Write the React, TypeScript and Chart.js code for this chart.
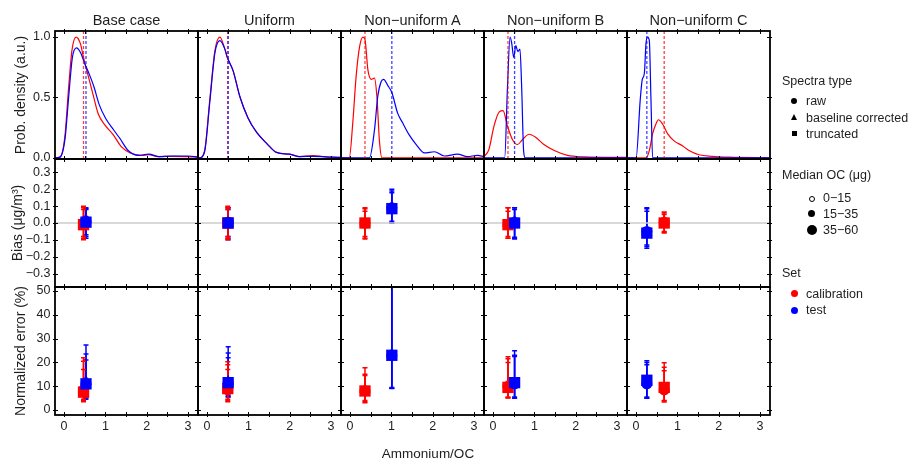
import React, { useEffect, useRef } from 'react';
import { Chart, registerables } from 'chart.js';
Chart.register(...registerables);

// ---------- labels & ticks ----------
const PANEL_TITLES = ['Base case', 'Uniform', 'Non\u2212uniform A', 'Non\u2212uniform B', 'Non\u2212uniform C'];
const ROW_TITLES = ['Prob. density (a.u.)', 'Bias (\u03bcg/m\u00b3)', 'Normalized error (%)'];
const X_TITLE = 'Ammonium/OC';
const X_TICKS = [0, 0.5, 1, 1.5, 2, 2.5, 3];
const DENS_TICKS = [0, 0.5, 1];
const BIAS_TICKS = [-0.3, -0.2, -0.1, 0, 0.1, 0.2, 0.3];
const ERR_TICKS = [0, 10, 20, 30, 40, 50];
const X_RANGE = [-0.22, 3.24];
const DENS_RANGE = [-0.01, 1.05];
const BIAS_RANGE = [-0.38, 0.38];
const ERR_RANGE = [-2.1, 51.7];
const SPECTRA = ['raw', 'baseline corrected', 'truncated'];
const OC_GROUPS = ['0\u221215', '15\u221235', '35\u221260'];
const SETS = ['calibration', 'test'];

// ---------- density curves [x, y] ----------
const DENS_BASE_CAL = [[-0.22, 0], [-0.1, 0.005], [0.02, 0.18], [0.105, 0.56], [0.19, 0.89], [0.29, 1.0], [0.39, 0.95], [0.49, 0.8], [0.59, 0.67], [0.71, 0.51], [0.83, 0.36], [0.99, 0.27], [1.19, 0.19], [1.39, 0.09], [1.6, 0.04], [1.88, 0.02], [2.04, 0.025], [2.28, 0.01], [2.6, 0.012], [3.0, 0.01], [3.24, 0.005]];
const DENS_BASE_TEST = [[-0.22, 0], [-0.1, 0.005], [0.02, 0.15], [0.11, 0.5], [0.2, 0.83], [0.3, 0.91], [0.4, 0.87], [0.5, 0.78], [0.6, 0.7], [0.72, 0.59], [0.85, 0.44], [1.0, 0.33], [1.2, 0.23], [1.35, 0.16], [1.55, 0.06], [1.8, 0.02], [2.05, 0.03], [2.3, 0.01], [2.6, 0.015], [3.0, 0.015], [3.24, 0.005]];
const DENS_UNI_CAL = [[-0.22, 0], [-0.18, 0], [-0.06, 0.06], [0.065, 0.48], [0.19, 0.89], [0.31, 1.0], [0.43, 0.9], [0.49, 0.83], [0.63, 0.72], [0.79, 0.51], [0.99, 0.33], [1.2, 0.21], [1.44, 0.12], [1.68, 0.045], [2.0, 0.03], [2.24, 0.01], [2.57, 0.018], [2.8, 0.01], [3.0, 0.005], [3.24, 0.003]];
const DENS_UNI_TEST = [[-0.22, 0], [-0.18, 0], [-0.06, 0.05], [0.065, 0.46], [0.19, 0.87], [0.31, 0.97], [0.43, 0.9], [0.49, 0.83], [0.63, 0.72], [0.79, 0.51], [0.99, 0.33], [1.2, 0.21], [1.44, 0.12], [1.68, 0.045], [2.0, 0.03], [2.24, 0.01], [2.57, 0.012], [2.8, 0.01], [3.0, 0.005], [3.24, 0.003]];
const DENS_A_CAL = [[-0.22, 0], [-0.02, 0], [0.065, 0.29], [0.145, 0.67], [0.23, 0.92], [0.31, 1.0], [0.36, 0.98], [0.43, 0.73], [0.51, 0.65], [0.59, 0.66], [0.65, 0.5], [0.71, 0.14], [0.77, 0], [3.24, 0]];
const DENS_A_TEST = [[-0.22, 0], [0.47, 0], [0.59, 0.23], [0.67, 0.51], [0.75, 0.63], [0.81, 0.65], [0.91, 0.6], [1.01, 0.54], [1.15, 0.37], [1.27, 0.29], [1.43, 0.19], [1.6, 0.11], [1.8, 0.04], [2.04, 0.05], [2.28, 0.015], [2.6, 0.03], [2.84, 0.01], [3.08, 0.02], [3.24, 0.01]];
const DENS_B_CAL = [[-0.22, 0.01], [-0.1, 0.07], [0.02, 0.26], [0.15, 0.38], [0.24, 0.39], [0.35, 0.26], [0.47, 0.15], [0.59, 0.11], [0.71, 0.15], [0.87, 0.195], [1.03, 0.17], [1.23, 0.11], [1.48, 0.06], [1.8, 0.02], [2.2, 0.008], [3.24, 0.003]];
const DENS_B_TEST = [[-0.22, 0], [0.28, 0], [0.35, 0.6], [0.41, 1.0], [0.45, 0.95], [0.5, 0.83], [0.55, 0.93], [0.6, 0.88], [0.65, 0.9], [0.69, 0.6], [0.74, 0.05], [0.78, 0], [3.24, 0]];
const DENS_C_CAL = [[-0.22, 0], [0.24, 0], [0.32, 0.06], [0.4, 0.2], [0.48, 0.28], [0.54, 0.315], [0.64, 0.28], [0.76, 0.2], [0.92, 0.14], [1.12, 0.1], [1.28, 0.06], [1.52, 0.025], [1.84, 0.012], [2.24, 0.005], [3.24, 0]];
const DENS_C_TEST = [[-0.22, 0], [0.0, 0], [0.1, 0.48], [0.15, 0.65], [0.2, 0.7], [0.24, 0.95], [0.28, 1.0], [0.32, 0.97], [0.36, 0.48], [0.4, 0], [3.24, 0]];
const DENS_CAL = [DENS_BASE_CAL, DENS_UNI_CAL, DENS_A_CAL, DENS_B_CAL, DENS_C_CAL];
const DENS_TEST = [DENS_BASE_TEST, DENS_UNI_TEST, DENS_A_TEST, DENS_B_TEST, DENS_C_TEST];

// ---------- medians (x position of each set) ----------
const MED_CAL = [0.47, 0.5, 0.36, 0.36, 0.68];
const MED_TEST = [0.53, 0.51, 1.01, 0.52, 0.26];

// ---------- bias per panel: [raw, baseline corrected, truncated] ----------
const BIAS_CAL = [[0.0, 0.01, -0.01], [0.0, 0.0, 0.0], [0.0, 0.005, 0.0], [-0.01, -0.005, -0.01], [0.005, 0.01, 0.0]];
const BIAS_CAL_LO = [[-0.09, -0.1, -0.08], [-0.1, -0.09, -0.08], [-0.09, -0.095, -0.08], [-0.09, -0.09, -0.08], [-0.055, -0.06, -0.05]];
const BIAS_CAL_HI = [[0.09, 0.1, 0.08], [0.09, 0.1, 0.08], [0.085, 0.09, 0.07], [0.09, 0.09, 0.07], [0.06, 0.065, 0.05]];
const BIAS_TEST = [[0.01, 0.02, 0.005], [0.005, 0.0, 0.0], [0.09, 0.095, 0.085], [0.005, 0.01, 0.0], [-0.05, -0.055, -0.06]];
const BIAS_TEST_LO = [[-0.08, -0.09, -0.07], [-0.1, -0.09, -0.08], [0.0, 0.01, 0.0], [-0.095, -0.09, -0.085], [-0.15, -0.14, -0.13]];
const BIAS_TEST_HI = [[0.09, 0.085, 0.08], [0.09, 0.09, 0.08], [0.19, 0.2, 0.18], [0.09, 0.09, 0.08], [0.09, 0.085, 0.07]];

// ---------- normalized error per panel: [raw, baseline corrected, truncated] ----------
const ERR_CAL = [[8.5, 9, 7.5], [8.5, 8.5, 9], [8, 8.5, 8], [10, 10.5, 9.5], [8.5, 9, 9.5]];
const ERR_CAL_LO = [[4, 4.5, 3.5], [3.5, 4.5, 4], [3.1, 4, 3.5], [5.2, 5.5, 5], [3.4, 4, 3.8]];
const ERR_CAL_HI = [[22, 20.5, 17], [20.3, 19, 17], [17.8, 14.5, 15], [22.4, 21.5, 20], [19.9, 16.5, 18]];
const ERR_TEST = [[11, 12, 11], [11.5, 12, 11.5], [23, 23.5, 23], [11, 11.5, 11.5], [11, 11.5, 12.5]];
const ERR_TEST_LO = [[5, 5.5, 4.5], [5.6, 5.5, 6], [9.1, 9.5, 9], [4.9, 5.5, 5], [4.9, 5.5, 5]];
const ERR_TEST_HI = [[27.3, 23.5, 21], [26.6, 24, 22], [55, 55, 55], [24.9, 22.5, 23], [20.7, 19, 20]];

// ---------- styling ----------
const RED = '#ff0000';
const BLUE = '#0000ff';
const FONT = '"Liberation Sans", Arial, Helvetica, sans-serif';
const TEXT = '#1e1e1e';
const COL_LEFT = [55, 198, 341, 484, 627];
const ROW_TOP = [31, 159, 287];
const PW = 143;
const PH = 128;
const E = 14;
const POINT_STYLES = ['circle', 'triangle', 'rect'];
const POINT_RADII = [5.5, 6.5, 8];

Chart.defaults.font.family = FONT;
Chart.defaults.color = TEXT;

function fmtBias(v: number) {
  if (Math.abs(v) < 1e-9) return '0.0';
  return v < 0 ? '\u2212' + Math.abs(v).toFixed(1) : v.toFixed(1);
}

const rowSpec = [
  { ticks: DENS_TICKS, range: DENS_RANGE, fmt: (v: number) => v.toFixed(1), titlePad: 13 },
  { ticks: BIAS_TICKS, range: BIAS_RANGE, fmt: fmtBias, titlePad: 10 },
  { ticks: ERR_TICKS, range: ERR_RANGE, fmt: (v: number) => String(v), titlePad: 13 },
];

function makeFramePlugin(yTicks: number[]) {
  return {
    id: 'panelFrame',
    beforeDatasetsDraw(chart: any) {
      const { ctx, chartArea: a, scales } = chart;
      const x = scales.x, y = scales.y;
      ctx.save();
      ctx.beginPath();
      ctx.rect(a.left, a.top, a.right - a.left, a.bottom - a.top);
      ctx.clip();
      chart.data.datasets.forEach((ds: any) => {
        if (!ds.errorBars) return;
        ctx.strokeStyle = ds.backgroundColor;
        ctx.lineWidth = 1.5;
        ds.data.forEach((pt: any) => {
          const px = x.getPixelForValue(pt.x);
          const y1 = y.getPixelForValue(pt.lo);
          const y2 = y.getPixelForValue(pt.hi);
          ctx.beginPath();
          ctx.moveTo(px, y1); ctx.lineTo(px, y2);
          ctx.moveTo(px - 2.5, y1); ctx.lineTo(px + 2.5, y1);
          ctx.moveTo(px - 2.5, y2); ctx.lineTo(px + 2.5, y2);
          ctx.stroke();
        });
      });
      ctx.restore();
    },
    afterDraw(chart: any) {
      const { ctx, chartArea: a, scales } = chart;
      const x = scales.x, y = scales.y;
      ctx.save();
      ctx.strokeStyle = '#000';
      ctx.lineWidth = 1;
      ctx.beginPath();
      X_TICKS.forEach((v) => {
        const px = Math.round(x.getPixelForValue(v)) + 0.5;
        ctx.moveTo(px, a.top - 2); ctx.lineTo(px, a.top + 3);
        ctx.moveTo(px, a.bottom - 3); ctx.lineTo(px, a.bottom + 2);
      });
      yTicks.forEach((v) => {
        const py = Math.round(y.getPixelForValue(v)) + 0.5;
        ctx.moveTo(a.left - 2, py); ctx.lineTo(a.left + 3, py);
        ctx.moveTo(a.right - 3, py); ctx.lineTo(a.right + 2, py);
      });
      ctx.stroke();
      ctx.lineWidth = 1.8;
      ctx.strokeRect(a.left, a.top, a.right - a.left, a.bottom - a.top);
      ctx.restore();
    },
  };
}

function buildDatasets(row: number, col: number) {
  if (row === 0) {
    const toPts = (arr: number[][]) => arr.map(([x, y]) => ({ x, y }));
    const dashed = (m: number, color: string, order: number) => ({
      data: [{ x: m, y: DENS_RANGE[0] }, { x: m, y: DENS_RANGE[1] }],
      borderColor: color, borderWidth: 1.3, borderDash: [3, 2], pointRadius: 0, order,
    });
    return [
      dashed(MED_TEST[col], 'rgba(0,0,255,0.75)', 0),
      dashed(MED_CAL[col], 'rgba(255,0,0,0.75)', 1),
      { data: toPts(DENS_TEST[col]), borderColor: BLUE, borderWidth: 1.2, pointRadius: 0, cubicInterpolationMode: 'monotone', order: 2 },
      { data: toPts(DENS_CAL[col]), borderColor: RED, borderWidth: 1.2, pointRadius: 0, cubicInterpolationMode: 'monotone', order: 3 },
    ];
  }
  const sets = row === 1
    ? [
        { vals: BIAS_TEST, lo: BIAS_TEST_LO, hi: BIAS_TEST_HI, med: MED_TEST, color: BLUE },
        { vals: BIAS_CAL, lo: BIAS_CAL_LO, hi: BIAS_CAL_HI, med: MED_CAL, color: RED },
      ]
    : [
        { vals: ERR_TEST, lo: ERR_TEST_LO, hi: ERR_TEST_HI, med: MED_TEST, color: BLUE },
        { vals: ERR_CAL, lo: ERR_CAL_LO, hi: ERR_CAL_HI, med: MED_CAL, color: RED },
      ];
  const out: any[] = [];
  let order = 0;
  if (row === 1) {
    out.push({
      data: [{ x: X_RANGE[0], y: 0 }, { x: X_RANGE[1], y: 0 }],
      borderColor: '#cccccc', borderWidth: 1.3, pointRadius: 0, order: 100,
    });
  }
  sets.forEach((s) => {
    SPECTRA.forEach((_, k) => {
      out.push({
        data: [{ x: s.med[col], y: s.vals[col][k], lo: s.lo[col][k], hi: s.hi[col][k] }],
        showLine: false,
        errorBars: true,
        backgroundColor: s.color,
        borderColor: s.color,
        pointBackgroundColor: s.color,
        pointBorderWidth: 0,
        pointStyle: POINT_STYLES[k],
        pointRadius: POINT_RADII[k],
        order: order++,
      });
    });
  });
  return out;
}

function Panel({ row, col }: { row: number; col: number }) {
  const ref = useRef<HTMLCanvasElement | null>(null);
  const cl = col === 0 ? 0 : COL_LEFT[col] - E;
  const ct = ROW_TOP[row] - E;
  const cr = COL_LEFT[col] + PW + E;
  const cb = row === 2 ? 448 : ROW_TOP[row] + PH + E;
  const w = cr - cl;
  const h = cb - ct;
  useEffect(() => {
    if (!ref.current) return;
    const spec = rowSpec[row];
    const chart = new Chart(ref.current, {
      type: 'line',
      data: { datasets: buildDatasets(row, col) as any },
      options: {
        animation: false,
        responsive: false,
        events: [],
        layout: { padding: { left: col === 0 ? 0 : E, top: E, right: E, bottom: row === 2 ? 0 : E } },
        plugins: { legend: { display: false }, tooltip: { enabled: false } },
        scales: {
          x: {
            type: 'linear',
            min: X_RANGE[0],
            max: X_RANGE[1],
            display: row === 2,
            grid: { display: false, drawTicks: false },
            border: { display: false },
            afterBuildTicks: (s: any) => { s.ticks = X_TICKS.map((v) => ({ value: v })); },
            afterFit: (s: any) => { if (row === 2) s.height = cb - 415; },
            ticks: {
              padding: 4.5,
              autoSkip: false,
              maxRotation: 0,
              font: { size: 12.5, family: FONT },
              color: TEXT,
              callback: (v: any) => (Number.isInteger(v) ? String(v) : ''),
            },
          },
          y: {
            type: 'linear',
            min: spec.range[0],
            max: spec.range[1],
            display: col === 0,
            grid: { display: false, drawTicks: false },
            border: { display: false },
            afterBuildTicks: (s: any) => { s.ticks = spec.ticks.map((v) => ({ value: v })); },
            afterFit: (s: any) => { if (col === 0) s.width = COL_LEFT[0] - cl; },
            title: {
              display: true,
              text: ROW_TITLES[row],
              font: { size: 14, family: FONT },
              color: TEXT,
              padding: { top: spec.titlePad, bottom: 0 },
            },
            ticks: {
              padding: 4.5,
              autoSkip: false,
              font: { size: 12.5, family: FONT },
              color: TEXT,
              callback: (v: any) => spec.fmt(Number(v)),
            },
          },
        },
      } as any,
      plugins: [makeFramePlugin(spec.ticks)],
    });
    return () => chart.destroy();
  }, [row, col]);
  return (
    <canvas
      ref={ref}
      width={w}
      height={h}
      style={{ position: 'absolute', left: cl, top: ct, width: w, height: h }}
    />
  );
}

const txt = (extra: React.CSSProperties): React.CSSProperties => ({
  position: 'absolute', fontFamily: FONT, color: TEXT, whiteSpace: 'nowrap', ...extra,
});

function Legend() {
  const LX = 782;
  const ITEM_X = 806;
  const items: React.ReactNode[] = [];
  items.push(<div key="st" style={txt({ left: LX, top: 81 - 8, fontSize: 12.5, lineHeight: '16px' })}>Spectra type</div>);
  const spY = [101, 117.5, 133.5];
  SPECTRA.forEach((s, i) => {
    const y = spY[i];
    let marker: React.ReactNode;
    if (i === 0) marker = <div style={{ position: 'absolute', left: 794 - 3, top: y - 3, width: 6, height: 6, borderRadius: 3, background: '#000' }} />;
    else if (i === 1) marker = <div style={{ position: 'absolute', left: 794 - 3.5, top: y - 3.5, width: 0, height: 0, borderLeft: '3.5px solid transparent', borderRight: '3.5px solid transparent', borderBottom: '6px solid #000' }} />;
    else marker = <div style={{ position: 'absolute', left: 794 - 2.5, top: y - 2.5, width: 5, height: 5, background: '#000' }} />;
    items.push(<React.Fragment key={'sp' + i}>{marker}<div style={txt({ left: ITEM_X, top: y - 8, fontSize: 12.5, lineHeight: '16px' })}>{s}</div></React.Fragment>);
  });
  items.push(<div key="oc" style={txt({ left: LX, top: 175 - 8, fontSize: 12.5, lineHeight: '16px' })}>Median OC ({'\u03bc'}g)</div>);
  const ocY = [198, 213.5, 229.5];
  const ocD = [4, 7, 10];
  OC_GROUPS.forEach((g, i) => {
    const y = ocY[i];
    const d = ocD[i];
    const marker = i === 0
      ? <div style={{ position: 'absolute', left: 811.5 - d / 2 - 0.5, top: y - d / 2 - 0.5, width: d, height: d, borderRadius: '50%', border: '1px solid #000', background: '#fff' }} />
      : <div style={{ position: 'absolute', left: 811.5 - d / 2, top: y - d / 2, width: d, height: d, borderRadius: '50%', background: '#000' }} />;
    items.push(<React.Fragment key={'oc' + i}>{marker}<div style={txt({ left: 823, top: y - 8, fontSize: 12.5, lineHeight: '16px' })}>{g}</div></React.Fragment>);
  });
  items.push(<div key="set" style={txt({ left: LX, top: 272.5 - 8, fontSize: 12.5, lineHeight: '16px' })}>Set</div>);
  const setY = [293.5, 310];
  SETS.forEach((s, i) => {
    const y = setY[i];
    items.push(<React.Fragment key={'set' + i}>
      <div style={{ position: 'absolute', left: 794 - 3.5, top: y - 3.5, width: 7, height: 7, borderRadius: '50%', background: i === 0 ? RED : BLUE }} />
      <div style={txt({ left: ITEM_X, top: y - 8, fontSize: 12.5, lineHeight: '16px' })}>{s}</div>
    </React.Fragment>);
  });
  return <>{items}</>;
}

export default function App() {
  const panels: React.ReactNode[] = [];
  for (let r = 0; r < 3; r++) for (let c = 0; c < 5; c++) panels.push(<Panel key={r + '-' + c} row={r} col={c} />);
  return (
    <div style={{ position: 'absolute', left: 0, top: 0, width: 912, height: 462, background: '#fff', overflow: 'hidden' }}>
      {panels}
      {PANEL_TITLES.map((t, i) => (
        <div key={t} style={txt({ left: COL_LEFT[i], width: PW, top: 20 - 9, textAlign: 'center', fontSize: 14.5, lineHeight: '18px' })}>{t}</div>
      ))}
      <div style={txt({ left: 428 - 60, width: 120, top: 454 - 8, textAlign: 'center', fontSize: 13.5, lineHeight: '16px' })}>{X_TITLE}</div>
      <Legend />
    </div>
  );
}
